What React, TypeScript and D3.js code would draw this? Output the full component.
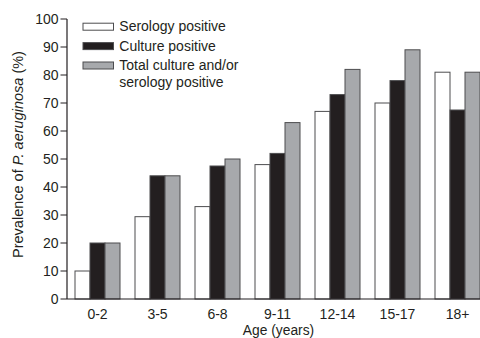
import React from "react";
import * as d3 from "d3";

const categories = ["0-2", "3-5", "6-8", "9-11", "12-14", "15-17", "18+"];
const seriesNames = ["Serology positive", "Culture positive", "Total culture and/or serology positive"];
const serology = [10, 29.4, 33, 48, 67, 70, 81];
const culture = [20, 44, 47.5, 52, 73, 78, 67.5];
const total = [20, 44, 50, 63, 82, 89, 81];
const yTicks = [0, 10, 20, 30, 40, 50, 60, 70, 80, 90, 100];
const fills = ["#ffffff", "#231f20", "#a7a9ac"];

const W = 480;
const H = 338;
const font = "'Liberation Sans', Arial, Helvetica, sans-serif";
const textColor = "#231f20";

export default function App() {
  const x0 = d3.scaleBand<string>().domain(categories).range([67.5, 487.5]).paddingInner(0.25).paddingOuter(0.125);
  const x1 = d3.scaleBand<number>().domain([0, 1, 2]).range([0, x0.bandwidth()]);
  const y = d3.scaleLinear().domain([0, 100]).range([299, 19]);
  const data = [serology, culture, total];

  return (
    <svg width={W} height={H} style={{ position: "absolute", left: 0, top: 0, background: "#fff" }} fontFamily={font}>
      <rect width={W} height={H} fill="#fff" />
      {categories.map((c, i) => (
        <g key={c}>
          {data.map((s, j) => (
            <rect
              key={j}
              x={(x0(c) ?? 0) + (x1(j) ?? 0)}
              y={y(s[i])}
              width={x1.bandwidth()}
              height={y(0) - y(s[i])}
              fill={fills[j]}
              stroke="#4d4d4f"
              strokeWidth={1}
            />
          ))}
          <text x={(x0(c) ?? 0) + x0.bandwidth() / 2} y={318.5} textAnchor="middle" fontSize={14} fill={textColor}>
            {c}
          </text>
        </g>
      ))}
      {/* axes */}
      <line x1={67} x2={67} y1={y(100)} y2={y(0)} stroke={textColor} strokeWidth={1.2} />
      <line x1={67} x2={480} y1={y(0)} y2={y(0)} stroke={textColor} strokeWidth={1.2} />
      {yTicks.map((t) => (
        <g key={t}>
          <line x1={60.5} x2={67} y1={y(t)} y2={y(t)} stroke={textColor} strokeWidth={1} />
          <text x={58.5} y={y(t)} dy="0.36em" textAnchor="end" fontSize={14} fill={textColor}>
            {t}
          </text>
        </g>
      ))}
      <text
        transform={`translate(23,154.5) rotate(-90)`}
        textAnchor="middle"
        fontSize={14.5}
        fill={textColor}
      >
        Prevalence of <tspan fontStyle="italic">P. aeruginosa</tspan> (%)
      </text>
      <text x={278.5} y={334.5} textAnchor="middle" fontSize={13.8} fill={textColor}>
        Age (years)
      </text>
      {/* legend */}
      {seriesNames.map((n, j) => {
        const cy = 26.7 + j * 19.4;
        const words = j === 2 ? ["Total culture and/or", "serology positive"] : [n];
        return (
          <g key={n}>
            <rect x={83} y={cy - 3.5} width={30.5} height={7} fill={fills[j]} stroke="#4d4d4f" strokeWidth={1} />
            {words.map((w, k) => (
              <text key={k} x={119.3} y={cy + 4.7 + k * 17} fontSize={14} fill={textColor}>
                {w}
              </text>
            ))}
          </g>
        );
      })}
    </svg>
  );
}
